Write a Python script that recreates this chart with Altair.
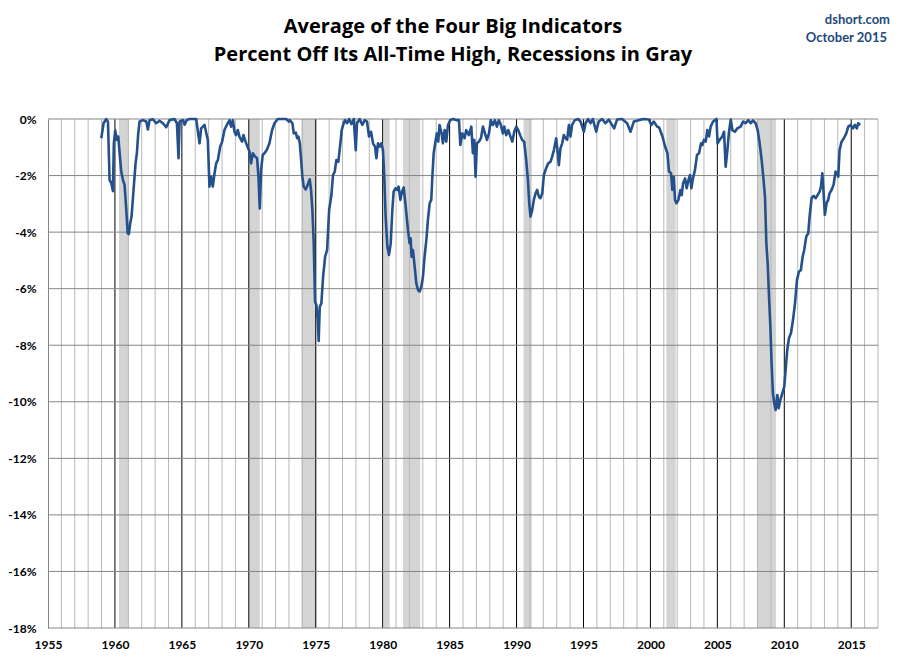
import altair as alt
import pandas as pd

# ---- data ----
years = [
    1958.98, 1959.15, 1959.35, 1959.48, 1959.60, 1959.73, 1959.85, 1959.92, 1960.02, 1960.15,
    1960.25, 1960.35, 1960.47, 1960.60, 1960.72, 1960.85, 1960.95, 1961.04, 1961.14, 1961.24,
    1961.39, 1961.54, 1961.64, 1961.74, 1961.84, 1962.09, 1962.34, 1962.46, 1962.59, 1962.84,
    1963.08, 1963.33, 1963.58, 1963.83, 1964.08, 1964.45, 1964.63, 1964.75, 1964.83, 1965.10,
    1965.20, 1965.37, 1965.57, 1966.07, 1966.32, 1966.44, 1966.69, 1966.94, 1967.06, 1967.19,
    1967.31, 1967.44, 1967.56, 1967.69, 1967.86, 1968.01, 1968.18, 1968.36, 1968.56, 1968.68,
    1968.81, 1968.93, 1969.05, 1969.18, 1969.30, 1969.50, 1969.60, 1969.80, 1970.05, 1970.17,
    1970.30, 1970.47, 1970.62, 1970.72, 1970.82, 1970.92, 1971.04, 1971.17, 1971.34, 1971.54,
    1971.74, 1971.92, 1972.16, 1972.79, 1972.99,
    1973.06, 1973.26, 1973.36, 1973.51, 1973.61, 1973.71, 1973.81, 1973.91, 1974.00, 1974.10,
    1974.25, 1974.40, 1974.55, 1974.65, 1974.75, 1974.85, 1974.95, 1975.05, 1975.15, 1975.22,
    1975.30, 1975.42, 1975.55, 1975.70, 1975.85, 1976.00, 1976.17, 1976.29, 1976.42, 1976.54,
    1976.69, 1976.84, 1976.94, 1977.09, 1977.19, 1977.34, 1977.49, 1977.66, 1977.84, 1977.99,
    1978.08, 1978.28, 1978.48, 1978.66, 1978.83, 1978.98, 1979.13, 1979.28, 1979.43, 1979.53,
    1979.65, 1979.78, 1979.90, 1980.02, 1980.12, 1980.22, 1980.35, 1980.47, 1980.60, 1980.72,
    1980.82, 1980.95, 1981.07, 1981.19, 1981.32, 1981.44, 1981.57, 1981.72, 1981.89, 1982.01,
    1982.09, 1982.16, 1982.26, 1982.39, 1982.51, 1982.64, 1982.76, 1982.89, 1983.01, 1983.13,
    1983.26, 1983.38, 1983.51, 1983.63, 1983.71, 1983.81, 1983.96, 1984.05, 1984.15, 1984.25,
    1984.40, 1984.50, 1984.63, 1984.75, 1984.88, 1985.05, 1985.25, 1985.50, 1985.70, 1985.80,
    1985.95, 1986.12, 1986.24, 1986.44, 1986.62,
    1986.74, 1986.84, 1986.94, 1987.04, 1987.19, 1987.34, 1987.49, 1987.64, 1987.79, 1987.94,
    1988.08, 1988.23, 1988.38, 1988.53, 1988.68, 1988.83, 1988.98, 1989.08, 1989.23, 1989.38,
    1989.53, 1989.68, 1989.83, 1989.98, 1990.12, 1990.27, 1990.42, 1990.57, 1990.72, 1990.85,
    1990.95, 1991.04, 1991.17, 1991.29, 1991.42, 1991.54, 1991.67, 1991.79, 1991.92, 1992.04,
    1992.21, 1992.36, 1992.54, 1992.66, 1992.79, 1992.96, 1993.08, 1993.16, 1993.28, 1993.41,
    1993.53, 1993.66, 1993.78, 1993.91, 1994.03, 1994.15, 1994.35, 1994.60, 1994.78, 1995.03,
    1995.15, 1995.35, 1995.52, 1995.70, 1995.95, 1996.14, 1996.39, 1996.64, 1996.89, 1997.29,
    1997.51, 1997.89, 1998.26, 1998.51, 1998.76, 1999.13, 1999.50, 1999.88, 2000.07, 2000.25,
    2000.50,
    2000.65, 2000.90, 2001.10, 2001.27, 2001.39, 2001.54, 2001.64, 2001.74, 2001.84, 2001.94,
    2002.09, 2002.24, 2002.34, 2002.44, 2002.59, 2002.71, 2002.84, 2002.96, 2003.06, 2003.18,
    2003.33, 2003.48, 2003.63, 2003.78, 2003.88, 2004.00, 2004.13, 2004.25, 2004.38, 2004.50,
    2004.68, 2004.83, 2004.93, 2005.02, 2005.17, 2005.37, 2005.50, 2005.62, 2005.75, 2005.87,
    2006.00, 2006.12, 2006.32, 2006.49, 2006.74, 2006.92, 2007.11, 2007.31, 2007.49, 2007.66,
    2007.86, 2008.01, 2008.16, 2008.31, 2008.43, 2008.56, 2008.66, 2008.76, 2008.86, 2008.96,
    2009.05, 2009.15, 2009.25, 2009.35, 2009.48, 2009.58, 2009.70, 2009.85, 2010.00, 2010.10,
    2010.22, 2010.35, 2010.50, 2010.65, 2010.80, 2010.95, 2011.09, 2011.24, 2011.37, 2011.49,
    2011.64, 2011.79, 2011.89, 2012.04, 2012.19, 2012.34, 2012.49, 2012.64, 2012.74, 2012.84,
    2012.94, 2013.03, 2013.16, 2013.28, 2013.38, 2013.53, 2013.68, 2013.83, 2013.93, 2014.03,
    2014.13, 2014.28, 2014.45, 2014.63, 2014.78, 2014.95, 2015.13, 2015.27, 2015.42, 2015.52,
    2015.67,
]

pct_off = [
    -0.68, -0.15, 0.00, -0.10, -2.16, -2.27, -2.55, -0.86, -0.41, -0.74,
    -0.62, -1.21, -1.86, -2.16, -2.33, -3.22, -4.04, -4.07, -3.69, -3.45,
    -2.51, -1.57, -1.21, -0.51, -0.09, -0.04, -0.09, -0.37, -0.04, -0.01,
    -0.15, -0.06, -0.15, -0.29, -0.04, 0.00, -0.15, -1.39, -0.09, -0.04,
    -0.20, -0.04, 0.00, 0.00, -0.86, -0.33, -0.21, -0.74, -2.39, -2.04,
    -2.39, -1.92, -1.57, -1.45, -0.98, -0.80, -0.39, -0.21, -0.04, -0.27,
    -0.04, -0.45, -0.57, -0.39, -0.62, -0.80, -0.57, -0.86, -1.15, -1.57,
    -1.21, -1.33, -1.39, -2.04, -3.16, -1.80, -1.27, -1.21, -1.10, -0.86,
    -0.39, -0.15, 0.00, 0.00, -0.09,
    -0.04, -0.15, -0.51, -0.48, -0.68, -0.62, -0.86, -1.45, -2.04, -2.39,
    -2.49, -2.33, -2.13, -2.51, -3.22, -4.40, -6.46, -6.58, -7.10, -7.85,
    -6.64, -6.52, -5.57, -4.87, -4.63, -3.22, -2.69, -1.98, -1.86, -1.45,
    -1.51, -0.86, -0.39, -0.15, -0.04, -0.15, 0.00, -0.18, 0.00, -1.10,
    -0.15, 0.00, -0.21, -0.04, -0.09, -0.62, -0.45, -0.86, -0.98, -1.39,
    -0.86, -0.98, -0.86, -1.10, -2.04, -3.45, -4.51, -4.81, -4.40, -3.22,
    -2.57, -2.45, -2.51, -2.39, -2.86, -2.57, -2.42, -3.10, -3.92, -4.40,
    -4.22, -4.87, -4.63, -5.22, -5.81, -6.05, -6.10, -5.93, -5.57, -4.87,
    -4.28, -3.57, -2.98, -2.86, -2.04, -1.21, -0.74, -0.51, -0.80, -0.21,
    -0.51, -0.86, -0.39, -0.80, -0.21, -0.04, 0.00, -0.04, -0.04, -0.92,
    -0.51, -0.68, -0.39, -0.57, -0.27,
    -1.21, -0.74, -2.04, -0.86, -0.80, -0.68, -0.27, -0.51, -0.74, -0.51,
    -0.04, -0.21, -0.04, -0.27, -0.04, -0.21, -0.51, -0.27, -0.57, -0.39,
    -0.60, -0.80, -0.45, -0.27, -0.39, -0.57, -0.74, -0.80, -1.45, -2.16,
    -2.98, -3.45, -3.22, -2.86, -2.63, -2.51, -2.75, -2.80, -2.63, -1.98,
    -1.74, -1.57, -1.51, -1.33, -1.10, -0.68, -1.21, -1.63, -1.04, -0.86,
    -0.57, -0.68, -0.74, -0.21, -0.62, -0.21, -0.04, 0.00, -0.09, -0.45,
    -0.15, 0.00, -0.15, 0.00, -0.45, -0.09, 0.00, -0.15, -0.02, -0.33,
    -0.02, 0.00, -0.15, -0.45, -0.09, -0.04, 0.00, -0.02, -0.21, -0.09,
    -0.27,
    -0.30, -0.62, -0.98, -1.21, -1.86, -1.92, -2.51, -2.04, -2.86, -2.98,
    -2.86, -2.51, -2.69, -2.27, -2.10, -2.45, -2.16, -1.98, -2.45, -2.10,
    -1.80, -1.27, -1.21, -0.86, -0.92, -0.74, -0.80, -0.39, -0.62, -0.27,
    -0.09, -0.04, 0.00, -0.86, -0.74, -0.62, -0.45, -1.69, -1.10, -0.45,
    -0.02, -0.39, -0.45, -0.33, -0.27, -0.09, -0.15, -0.04, -0.15, -0.05,
    -0.15, -0.39, -0.86, -1.45, -2.04, -2.75, -4.40, -5.10, -6.28, -7.34,
    -8.64, -9.70, -10.05, -10.29, -9.76, -10.23, -9.94, -9.70, -9.46, -8.87,
    -8.17, -7.75, -7.57, -7.11, -6.52, -5.69, -5.40, -5.34, -4.87, -4.63,
    -4.16, -4.04, -3.45, -2.80, -2.72, -2.80, -2.69, -2.57, -2.39, -1.92,
    -2.63, -3.39, -2.98, -2.86, -2.63, -2.51, -2.33, -1.86, -1.92, -2.04,
    -1.10, -0.80, -0.68, -0.51, -0.27, -0.21, -0.33, -0.21, -0.33, -0.15,
    -0.21,
]

rec_start = [1960.30, 1970.02, 1973.93, 1980.07, 1981.52, 1990.52, 2001.19, 2008.01]
rec_end = [1961.05, 1970.82, 1975.05, 1980.52, 1982.81, 1991.14, 2001.89, 2009.38]

minor_years = [y for y in range(1956, 2018) if y % 5 != 0]
major_years = [1960, 1965, 1970, 1975, 1980, 1985, 1990, 1995, 2000, 2005, 2010, 2015]
grid_pcts = [0, -2, -4, -6, -8, -10, -12, -14, -16, -18]
x_labels = list(range(1955, 2016, 5))

title_lines = ["Average of the Four Big Indicators",
               "Percent Off Its All-Time High, Recessions in Gray"]
source_lines = ["dshort.com", "October 2015"]

# ---- chart ----
W, H = 830, 509
FONT = "Lato"
TFONT = "Open Sans"
xs = alt.Scale(domain=[1955, 2017], nice=False, zero=False)
ys = alt.Scale(domain=[-18, 0], nice=False, zero=False)

x_axis = alt.Axis(values=x_labels, format="d", grid=False, ticks=False,
                  domain=False, labelFont=FONT, labelFontSize=12,
                  labelFontWeight="bold", labelColor="#000000",
                  labelPadding=11, labelFlush=False, title=None)
y_axis = alt.Axis(values=grid_pcts, labelExpr="datum.value + '%'",
                  grid=False, ticks=False, domain=True,
                  domainColor="#868686", labelFont=FONT, labelFontSize=12,
                  labelFontWeight="bold", labelColor="#000000",
                  labelPadding=12, title=None)

series = pd.DataFrame({"year": years, "pct": pct_off})
recs = pd.DataFrame({"start": rec_start, "end": rec_end})

bands = alt.Chart(recs).mark_rect(color="#d4d4d4").encode(
    x=alt.X("start:Q", scale=xs, axis=x_axis),
    x2="end:Q",
)

minor = alt.Chart(pd.DataFrame({"yr": minor_years})).mark_rule(
    color="#b8b8b8", strokeWidth=1
).encode(x=alt.X("yr:Q", scale=xs, axis=x_axis))

major = alt.Chart(pd.DataFrame({"yr": major_years})).mark_rule(
    color="#000000", strokeWidth=1
).encode(x=alt.X("yr:Q", scale=xs, axis=x_axis))

hgrid = alt.Chart(pd.DataFrame({"p": grid_pcts})).mark_rule(
    color="#868686", strokeWidth=1
).encode(y=alt.Y("p:Q", scale=ys, axis=y_axis))

line = alt.Chart(series).mark_line(
    color="#24508c", strokeWidth=2.6, strokeJoin="round"
).encode(
    x=alt.X("year:Q", scale=xs, axis=x_axis),
    y=alt.Y("pct:Q", scale=ys, axis=y_axis),
)

one = pd.DataFrame({"k": [0]})
t1 = alt.Chart(one).mark_text(font=TFONT, fontSize=20, fontWeight="bold",
                              color="#000000", baseline="alphabetic", align="center").encode(
    x=alt.value(W / 2 - 10), y=alt.value(-86.5), text=alt.value(title_lines[0]))
t2 = alt.Chart(one).mark_text(font=TFONT, fontSize=20, fontWeight="bold",
                              color="#000000", baseline="alphabetic", align="center").encode(
    x=alt.value(W / 2 - 10), y=alt.value(-58.5), text=alt.value(title_lines[1]))
s1 = alt.Chart(one).mark_text(font=FONT, fontSize=13, fontWeight="bold",
                              color="#1f497d", baseline="alphabetic", align="right").encode(
    x=alt.value(W + 12), y=alt.value(-95), text=alt.value(source_lines[0]))
s2 = alt.Chart(one).mark_text(font=FONT, fontSize=13, fontWeight="bold",
                              color="#1f497d", baseline="alphabetic", align="right").encode(
    x=alt.value(W + 9), y=alt.value(-77.5), text=alt.value(source_lines[1]))

chart = alt.layer(bands, minor, major, hgrid, line, t1, t2, s1, s2).properties(
    width=W, height=H,
    autosize=alt.AutoSizeParams(type="none"),
    padding={"left": 40, "top": 111, "right": 22, "bottom": 26},
    background="white",
).configure_view(stroke=None)

chart.save("out.html", embed_options={"renderer": "svg", "actions": False})
